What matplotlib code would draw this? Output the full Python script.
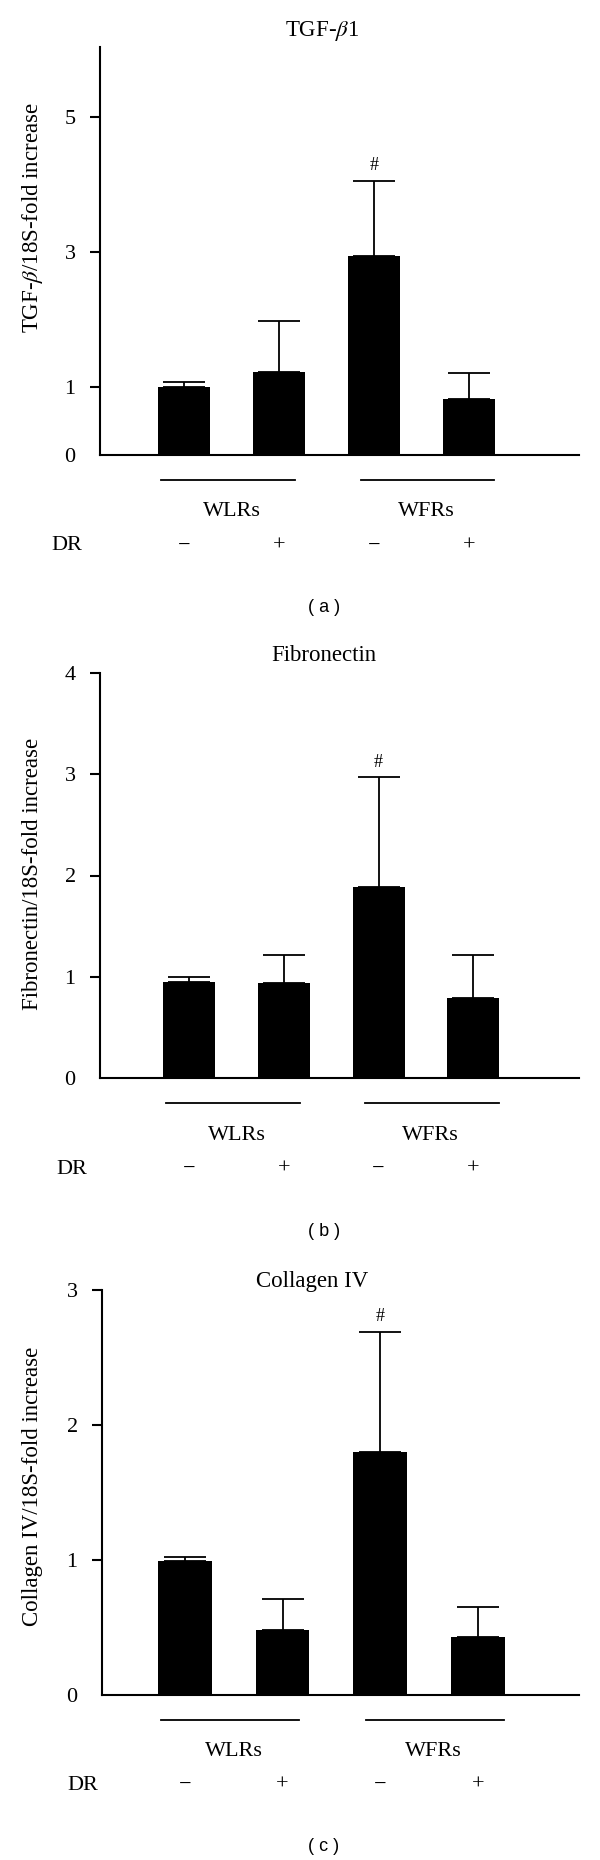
import numpy as np
import matplotlib
matplotlib.use('Agg')
import matplotlib.pyplot as plt
import matplotlib.transforms as mtransforms

# ---- data ----
groups = ['WLRs', 'WFRs']
dr_signs = ['\u2212', '+', '\u2212', '+']

tgf_mean = [1.00, 1.22, 2.94, 0.83]
tgf_sem = [0.08, 0.76, 1.11, 0.38]
tgf_ticks = [0, 1, 3, 5]

fn_mean = [0.95, 0.94, 1.89, 0.79]
fn_sem = [0.05, 0.27, 1.08, 0.42]
fn_ticks = [0, 1, 2, 3, 4]

col_mean = [0.99, 0.48, 1.80, 0.43]
col_sem = [0.03, 0.23, 0.89, 0.22]
col_ticks = [0, 1, 2, 3]

sig_bar = 2  # '#' marks WFRs without DR

W, H, DPI = 600, 1860, 100
SERIF = ['Liberation Serif', 'DejaVu Serif']
plt.rcParams['font.family'] = SERIF
plt.rcParams['mathtext.fontset'] = 'stix'

fig = plt.figure(figsize=(W / DPI, H / DPI), dpi=DPI)


def fx(px):
    return px / W


def fy(py):
    return 1 - py / H


# layout per panel (pixels): axes box, bar-centre fit, text spots
panels = [
    dict(mean=tgf_mean, sem=tgf_sem, ticks=tgf_ticks, ylim=(0, 6.03),
         title='TGF-$\\beta$1', ylabel='TGF-$\\beta$/18S-fold increase',
         box=(100, 47, 579, 455), fit=(326.6, 94.85),
         title_xy=(322, 31), ylab_y=218, dr_x=67, tag='( a )', tag_y=607),
    dict(mean=fn_mean, sem=fn_sem, ticks=fn_ticks, ylim=(0, 4),
         title='Fibronectin', ylabel='Fibronectin/18S-fold increase',
         box=(100, 673, 579, 1078), fit=(331.3, 94.6),
         title_xy=(324, 655), ylab_y=874, dr_x=72, tag='( b )', tag_y=1232),
    dict(mean=col_mean, sem=col_sem, ticks=col_ticks, ylim=(0, 3),
         title='Collagen IV', ylabel='Collagen IV/18S-fold increase',
         box=(102, 1290, 579, 1694.5), fit=(331.3, 97.6),
         title_xy=(312, 1281), ylab_y=1486, dr_x=83, tag='( c )', tag_y=1846),
]

group_spans = [(-0.25, 1.17), (1.86, 3.27)]
group_label_x = [0.5, 2.55]
FS = 16

for p in panels:
    x0, y0, x1, y1 = p['box']
    ax = fig.add_axes([fx(x0), fy(y1), fx(x1) - fx(x0), (y1 - y0) / H])
    mid, slope = p['fit']
    ax.set_xlim((x0 - mid) / slope + 1.5, (x1 - mid) / slope + 1.5)
    ax.set_ylim(*p['ylim'])

    xs = np.arange(len(p['mean']))
    ax.bar(xs, p['mean'], width=0.55, color='black', zorder=2)
    ax.errorbar(xs, p['mean'], yerr=[np.zeros(len(xs)), p['sem']], fmt='none',
                ecolor='black', elinewidth=1.3, capsize=15, capthick=1.3, zorder=3)
    ax.annotate('#', (xs[sig_bar], p['mean'][sig_bar] + p['sem'][sig_bar]),
                xytext=(0, 11), textcoords='offset points', ha='center', va='center',
                fontsize=13)

    for side in ['top', 'right']:
        ax.spines[side].set_visible(False)
    for side in ['left', 'bottom']:
        ax.spines[side].set_linewidth(1.5)
    ax.set_xticks([])
    ax.set_yticks(p['ticks'])
    ax.set_yticklabels([str(t) for t in p['ticks']])
    ax.tick_params(axis='y', direction='out', length=7.5, width=1.5, pad=10, labelsize=FS)
    ax.yaxis.get_major_ticks()[0].tick1line.set_visible(False)

    # rows under the axis
    def below(dy_px):
        return mtransforms.offset_copy(ax.get_xaxis_transform(), fig=fig,
                                       x=0, y=-dy_px * 72 / DPI, units='points')

    for (a, b), lab, lx in zip(group_spans, groups, group_label_x):
        ax.plot([a, b], [0, 0], color='black', lw=1.3, clip_on=False, transform=below(25))
        ax.text(lx, 0, lab, ha='center', va='center', fontsize=FS, transform=below(57))
    for x, s in zip(xs, dr_signs):
        ax.text(x, 0, s, ha='center', va='center', fontsize=FS, transform=below(91))

    fig.text(fx(p['dr_x']), fy(y1 + 91), 'DR', ha='center', va='center', fontsize=FS)
    fig.text(fx(p['title_xy'][0]), fy(p['title_xy'][1]), p['title'],
             ha='center', va='center', fontsize=16.5)
    fig.text(fx(32.5), fy(p['ylab_y']), p['ylabel'], rotation=90,
             ha='center', va='center', fontsize=16.5)
    fig.text(fx(324), fy(p['tag_y']), p['tag'], ha='center', va='center',
             fontsize=13, family=['Liberation Sans', 'DejaVu Sans'])

fig.savefig('out.png', dpi=DPI)
